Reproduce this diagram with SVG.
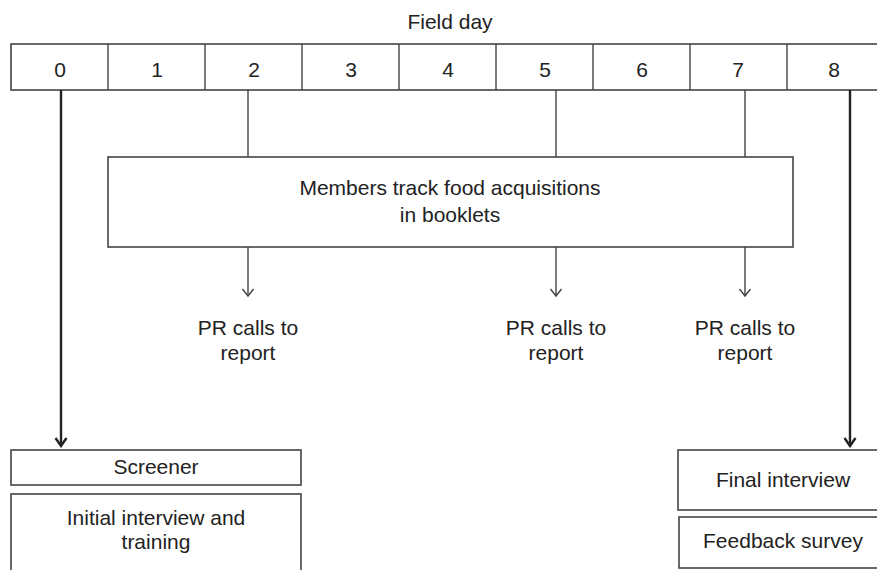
<svg xmlns="http://www.w3.org/2000/svg" width="877" height="570" viewBox="0 0 877 570">
<defs>
<style>
text{font-family:"Liberation Sans",Arial,sans-serif;font-size:21px;fill:#222;text-anchor:middle}
.box{fill:none;stroke:#444;stroke-width:1.6}
.thin{stroke:#444;stroke-width:1.4;fill:none}
.thick{stroke:#222;stroke-width:2.4;fill:none}
</style>
<marker id="open" markerWidth="14" markerHeight="14" refX="10" refY="7" orient="auto" markerUnits="userSpaceOnUse" viewBox="0 0 14 14">
<path d="M3,1.5 L10,7 L3,12.5" fill="none" stroke="#444" stroke-width="1.4"/>
</marker>
<marker id="solid" markerWidth="14" markerHeight="14" refX="12" refY="7" orient="auto" markerUnits="userSpaceOnUse" viewBox="0 0 14 14">
<path d="M4,1.5 L12,7 L4,12.5" fill="none" stroke="#222" stroke-width="2.4"/>
</marker>
</defs>
<rect width="877" height="570" fill="#ffffff"/>
<text x="450" y="29">Field day</text>
<g id="timeline">
<rect class="box" x="11" y="44" width="875" height="46"/>
<path class="thin" d="M108,44V90M205,44V90M302,44V90M399,44V90M496,44V90M593,44V90M690,44V90M787,44V90"/>
<text x="60" y="77">0</text>
<text x="157" y="77">1</text>
<text x="254" y="77">2</text>
<text x="351" y="77">3</text>
<text x="448" y="77">4</text>
<text x="545" y="77">5</text>
<text x="642" y="77">6</text>
<text x="738" y="77">7</text>
<text x="834" y="77">8</text>
</g>
<g id="track">
<rect class="box" x="108" y="157" width="685" height="90"/>
<text x="450" y="195">Members track food acquisitions</text>
<text x="450" y="222">in booklets</text>
</g>
<g id="pr1"><text x="248" y="335">PR calls to</text><text x="248" y="360">report</text></g>
<g id="pr2"><text x="556" y="335">PR calls to</text><text x="556" y="360">report</text></g>
<g id="pr3"><text x="745" y="335">PR calls to</text><text x="745" y="360">report</text></g>
<g id="screener">
<rect class="box" x="11" y="450" width="290" height="35"/>
<text x="156" y="474">Screener</text>
</g>
<g id="initial">
<rect class="box" x="11" y="494" width="290" height="90"/>
<text x="156" y="525">Initial interview and</text>
<text x="156" y="549">training</text>
</g>
<g id="final">
<rect class="box" x="678" y="450" width="210" height="60"/>
<text x="783" y="487">Final interview</text>
</g>
<g id="feedback">
<rect class="box" x="679" y="517" width="210" height="51"/>
<text x="783" y="548">Feedback survey</text>
</g>
<g id="connectors">
<path class="thin" d="M248,90V157M556,90V157M745,90V157"/>
<path class="thin" d="M248,247V296" marker-end="url(#open)"/>
<path class="thin" d="M556,247V296" marker-end="url(#open)"/>
<path class="thin" d="M745,247V296" marker-end="url(#open)"/>
<path class="thick" d="M61,90V446" marker-end="url(#solid)"/>
<path class="thick" d="M850,90V446" marker-end="url(#solid)"/>
</g>
</svg>
